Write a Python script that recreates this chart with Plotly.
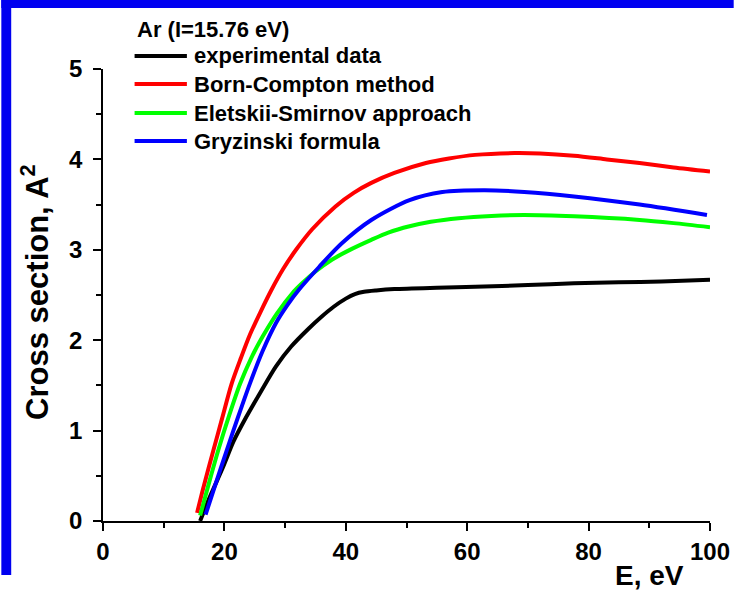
import plotly.graph_objects as go

# ---- data ----
exp_E = [16.0, 17.5, 19.8, 21.5, 23.6, 26.0, 28.5, 31.0, 33.9, 36.0, 38.0, 40.0, 41.5,
         43.0, 45.0, 48.0, 55.0, 61.3, 70.0, 77.6, 85.0, 92.0, 100.0]
exp_S = [0.0, 0.25, 0.60, 0.88, 1.15, 1.43, 1.71, 1.93, 2.13, 2.26, 2.37, 2.46, 2.51,
         2.535, 2.55, 2.565, 2.58, 2.59, 2.61, 2.63, 2.64, 2.65, 2.67]

born_E = [15.5, 16.5, 18.2, 19.6, 21.2, 22.7, 24.2, 26.0, 27.7, 29.7, 31.8, 34.5, 38.3,
          41.3, 44.2, 48.0, 53.2, 57.0, 61.3, 67.8, 72.0, 77.6, 83.0, 88.4, 94.0, 100.0]
born_S = [0.09, 0.36, 0.785, 1.13, 1.52, 1.80, 2.06, 2.32, 2.55, 2.79, 3.00, 3.23, 3.48,
          3.63, 3.74, 3.85, 3.96, 4.01, 4.05, 4.07, 4.065, 4.04, 4.00, 3.96, 3.91, 3.865]

elet_E = [16.0, 17.5, 19.0, 20.8, 22.6, 24.4, 26.3, 28.7, 31.2, 32.8, 35.0, 37.7, 41.0,
          44.2, 47.0, 50.5, 54.0, 58.6, 64.0, 69.4, 77.6, 88.4, 94.0, 100.0]
elet_S = [0.06, 0.43, 0.785, 1.17, 1.52, 1.80, 2.04, 2.30, 2.52, 2.63, 2.76, 2.89, 3.01,
          3.11, 3.19, 3.26, 3.31, 3.35, 3.375, 3.385, 3.37, 3.33, 3.295, 3.25]

gryz_E = [16.9, 18.5, 20.4, 22.3, 24.2, 26.3, 28.5, 30.4, 32.3, 35.6, 39.3, 44.2, 50.5,
          55.9, 62.9, 69.4, 77.6, 88.4, 99.5]
gryz_S = [0.07, 0.40, 0.785, 1.16, 1.52, 1.88, 2.19, 2.39, 2.56, 2.81, 3.07, 3.33, 3.55,
          3.64, 3.66, 3.64, 3.59, 3.50, 3.385]

series_names = ["experimental data", "Born-Compton method",
                "Eletskii-Smirnov approach", "Gryzinski formula"]
series_E = [exp_E, born_E, elet_E, gryz_E]
series_S = [exp_S, born_S, elet_S, gryz_S]
series_colors = ["#000000", "#FF0000", "#00FF00", "#0000FF"]
legend_title = "Ar (I=15.76 eV)"

x_ticks = [0, 20, 40, 60, 80, 100]
y_ticks = [0, 1, 2, 3, 4, 5]

FONT = "Liberation Sans, Arial, sans-serif"
W, H = 742, 595
L, R, T, B = 103, 24, 69, 74
PW, PH = W - L - R, H - T - B


def px(x):
    return (x - L) / PW


def py(y):
    return (H - B - y) / PH


fig = go.Figure()
for name, xs, ys, col in zip(series_names, series_E, series_S, series_colors):
    fig.add_trace(go.Scatter(
        x=xs, y=ys, mode="lines", name=name, showlegend=False,
        line=dict(color=col, width=4, shape="spline", smoothing=0.8),
    ))

axis_common = dict(
    showgrid=False, zeroline=False, showline=True, linecolor="black", linewidth=1.5,
    ticks="outside", ticklen=8, tickwidth=1.5, tickcolor="black",
    tickfont=dict(family=FONT, size=24, color="black", weight="bold"),
)

fig.update_xaxes(range=[0, 100], tickvals=x_ticks, ticktext=[str(v) for v in x_ticks],
                 minor=dict(dtick=10, ticks="outside", ticklen=5, tickwidth=1.5, tickcolor="black"),
                 ticklabelstandoff=0, **axis_common)
fig.update_yaxes(range=[0, 5], tickvals=y_ticks, ticktext=[str(v) for v in y_ticks],
                 minor=dict(dtick=0.5, ticks="outside", ticklen=5, tickwidth=1.5, tickcolor="black"),
                 ticklabelstandoff=6, **axis_common)

annotations = [
    dict(text="E, eV", x=px(657), y=py(575), xref="paper", yref="paper",
         showarrow=False, xanchor="center", yanchor="middle",
         font=dict(family=FONT, size=28, color="black", weight="bold")),
    dict(text="Cross section, A<sup>2</sup>", x=px(34), y=py(292), xref="paper", yref="paper",
         showarrow=False, xanchor="center", yanchor="middle", textangle=-90,
         font=dict(family=FONT, size=31, color="black", weight="bold")),
    dict(text=legend_title, x=px(135), y=py(29), xref="paper", yref="paper",
         showarrow=False, xanchor="left", yanchor="middle",
         font=dict(family=FONT, size=22, color="black", weight="bold")),
]
shapes = [
    dict(type="rect", xref="paper", yref="paper", x0=px(0), x1=px(10), y0=py(575), y1=py(0),
         fillcolor="#0000F0", line=dict(width=0), layer="above"),
    dict(type="rect", xref="paper", yref="paper", x0=px(0), x1=px(W), y0=py(8), y1=py(0),
         fillcolor="#0000F0", line=dict(width=0), layer="above"),
]

# hand-built legend (longer line samples, tighter rows as in the reference)
row_y = [56, 84, 113, 141]
for name, col, ry in zip(series_names, series_colors, row_y):
    shapes.append(dict(type="line", xref="paper", yref="paper",
                       x0=px(135), x1=px(188), y0=py(ry), y1=py(ry),
                       line=dict(color=col, width=4)))
    annotations.append(dict(text=name, x=px(193), y=py(ry), xref="paper", yref="paper",
                            showarrow=False, xanchor="left", yanchor="middle",
                            font=dict(family=FONT, size=22, color="black", weight="bold")))

fig.update_layout(
    width=W, height=H, autosize=False,
    margin=dict(l=L, r=R, t=T, b=B, pad=0),
    paper_bgcolor="white", plot_bgcolor="white",
    font=dict(family=FONT, color="black"),
    showlegend=False,
    annotations=annotations,
    shapes=shapes,
)

fig.write_html("out.html", config={"responsive": False, "displayModeBar": False})
